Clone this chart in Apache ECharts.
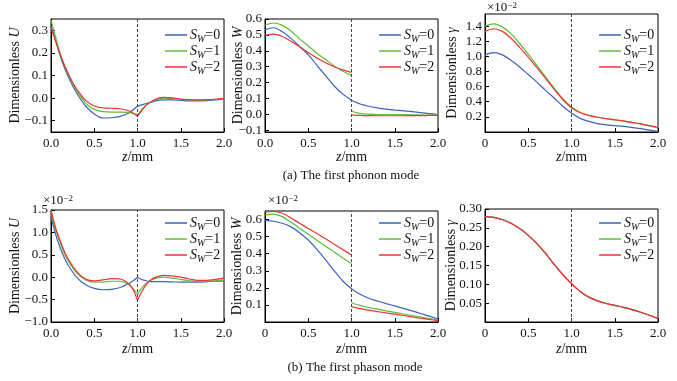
<!DOCTYPE html>
<html><head><meta charset="utf-8">
<script src="https://cdn.jsdelivr.net/npm/echarts@6/dist/echarts.min.js"></script>
<style>html,body{margin:0;padding:0;background:#fff}#c{width:677px;height:381px}</style>
</head><body><div id="c"></div>
<script>
// ---------- data ----------
const seriesNames = ['S_W=0', 'S_W=1', 'S_W=2'];
const xTicks = [0, 0.5, 1, 1.5, 2];

// (a) U, phonon
const zU1L = [0, 0.05, 0.1, 0.15, 0.2, 0.25, 0.3, 0.4, 0.5, 0.6, 0.7, 0.8, 0.9, 1.0];
const U1_S0L = [0.32, 0.26, 0.195, 0.14, 0.095, 0.055, 0.02, -0.035, -0.07, -0.088, -0.087, -0.081, -0.066, -0.035];
const U1_S1L = [0.345, 0.275, 0.205, 0.15, 0.105, 0.065, 0.032, -0.022, -0.05, -0.06, -0.062, -0.062, -0.063, -0.074];
const U1_S2L = [0.31, 0.255, 0.2, 0.15, 0.108, 0.07, 0.038, -0.01, -0.035, -0.043, -0.045, -0.047, -0.056, -0.08];
const zU1R = [1.0, 1.05, 1.1, 1.2, 1.3, 1.4, 1.5, 1.6, 1.7, 1.8, 1.9, 2.0];
const U1_S0R = [-0.035, -0.03, -0.024, -0.013, -0.008, -0.008, -0.01, -0.012, -0.012, -0.011, -0.008, -0.005];
const U1_S1R = [-0.074, -0.05, -0.03, -0.008, 0.0, -0.002, -0.005, -0.008, -0.009, -0.008, -0.006, -0.003];
const U1_S2R = [-0.08, -0.055, -0.032, -0.006, 0.003, 0.001, -0.004, -0.007, -0.008, -0.007, -0.005, -0.001];
const yTicksU1 = [-0.1, 0, 0.1, 0.2, 0.3];

// (a) W, phonon
const zW1L = [0, 0.1, 0.2, 0.3, 0.4, 0.5, 0.6, 0.7, 0.8, 0.9, 1.0];
const W1_S0L = [0.532, 0.545, 0.52, 0.478, 0.427, 0.376, 0.309, 0.244, 0.179, 0.128, 0.09];
const W1_S1L = [0.56, 0.575, 0.56, 0.525, 0.475, 0.43, 0.385, 0.345, 0.305, 0.272, 0.245];
const W1_S2L = [0.497, 0.505, 0.49, 0.46, 0.425, 0.39, 0.355, 0.325, 0.3, 0.28, 0.265];
const zW1R = [1.0, 1.05, 1.1, 1.2, 1.3, 1.4, 1.5, 1.6, 1.7, 1.8, 1.9, 2.0];
const W1_S0R = [0.09, 0.077, 0.066, 0.052, 0.042, 0.034, 0.028, 0.023, 0.018, 0.012, 0.006, 0.0];
const W1_S1R = [0.022, 0.012, 0.006, 0.002, 0.0, 0.0, 0.0, -0.001, -0.002, -0.003, -0.004, -0.004];
const W1_S2R = [-0.002, -0.005, -0.006, -0.007, -0.008, -0.008, -0.008, -0.008, -0.007, -0.007, -0.006, -0.006];
const yTicksW1 = [-0.1, 0, 0.1, 0.2, 0.3, 0.4, 0.5, 0.6];

// (a) gamma, phonon (x 10^-2)
const zG1 = [0, 0.1, 0.2, 0.3, 0.4, 0.5, 0.6, 0.7, 0.8, 0.9, 1.0, 1.1, 1.2, 1.3, 1.4, 1.5, 1.6, 1.7, 1.8, 1.9, 2.0];
const G1_S0 = [1.02, 1.05, 1.02, 0.95, 0.86, 0.76, 0.66, 0.55, 0.45, 0.34, 0.25, 0.18, 0.14, 0.11, 0.095, 0.085, 0.075, 0.06, 0.045, 0.025, 0.01];
const G1_S1 = [1.40, 1.43, 1.39, 1.30, 1.17, 1.03, 0.88, 0.73, 0.58, 0.44, 0.33, 0.26, 0.22, 0.195, 0.175, 0.16, 0.145, 0.125, 0.105, 0.08, 0.055];
const G1_S2 = [1.33, 1.365, 1.33, 1.24, 1.12, 0.99, 0.85, 0.71, 0.565, 0.43, 0.32, 0.255, 0.22, 0.195, 0.178, 0.162, 0.147, 0.128, 0.108, 0.085, 0.06];
const yTicksG1 = [0.2, 0.4, 0.6, 0.8, 1.0, 1.2, 1.4];

// (b) U, phason (x 10^-2)
const zU2L = [0, 0.05, 0.1, 0.15, 0.2, 0.3, 0.4, 0.5, 0.6, 0.7, 0.8, 0.9, 0.95, 1.0];
const U2_S0L = [1.35, 0.98, 0.69, 0.45, 0.26, -0.01, -0.17, -0.25, -0.28, -0.27, -0.23, -0.14, -0.08, 0.0];
const U2_S1L = [1.45, 1.08, 0.8, 0.55, 0.36, 0.09, -0.06, -0.11, -0.11, -0.09, -0.09, -0.17, -0.26, -0.38];
const U2_S2L = [1.5, 1.12, 0.84, 0.6, 0.4, 0.12, -0.04, -0.08, -0.06, -0.03, -0.04, -0.15, -0.28, -0.52];
const zU2R = [1.0, 1.05, 1.1, 1.15, 1.2, 1.3, 1.4, 1.5, 1.6, 1.7, 1.8, 1.9, 2.0];
const U2_S0R = [0.0, -0.05, -0.08, -0.1, -0.1, -0.1, -0.105, -0.11, -0.11, -0.11, -0.1, -0.09, -0.08];
const U2_S1R = [-0.38, -0.24, -0.14, -0.07, -0.03, 0.0, -0.02, -0.05, -0.08, -0.09, -0.09, -0.08, -0.06];
const U2_S2R = [-0.52, -0.32, -0.17, -0.07, -0.01, 0.04, 0.03, 0.0, -0.04, -0.07, -0.07, -0.05, -0.02];
const yTicksU2 = [-1.0, -0.5, 0, 0.5, 1.0, 1.5];

// (b) W, phason (x 10^-2)
const zW2L = [0, 0.1, 0.2, 0.3, 0.4, 0.5, 0.6, 0.7, 0.8, 0.9, 1.0];
const W2_S0L = [0.595, 0.59, 0.578, 0.557, 0.523, 0.48, 0.425, 0.364, 0.3, 0.24, 0.195];
const W2_S1L = [0.628, 0.632, 0.617, 0.584, 0.549, 0.514, 0.479, 0.444, 0.41, 0.375, 0.341];
const W2_S2L = [0.645, 0.647, 0.637, 0.609, 0.578, 0.548, 0.518, 0.487, 0.455, 0.424, 0.393];
const zW2R = [1.0, 1.1, 1.2, 1.3, 1.4, 1.5, 1.6, 1.7, 1.8, 1.9, 2.0];
const W2_S0R = [0.195, 0.162, 0.139, 0.123, 0.108, 0.094, 0.08, 0.065, 0.05, 0.034, 0.017];
const W2_S1R = [0.113, 0.097, 0.085, 0.075, 0.065, 0.056, 0.047, 0.038, 0.029, 0.02, 0.011];
const W2_S2R = [0.09, 0.078, 0.069, 0.061, 0.053, 0.046, 0.038, 0.03, 0.022, 0.015, 0.007];
const yTicksW2 = [0.1, 0.2, 0.3, 0.4, 0.5, 0.6];

// (b) gamma, phason
const zG2 = [0, 0.1, 0.2, 0.3, 0.4, 0.5, 0.6, 0.7, 0.8, 0.9, 1.0, 1.1, 1.2, 1.3, 1.4, 1.5, 1.6, 1.7, 1.8, 1.9, 2.0];
const G2_S0 = [0.280, 0.278, 0.272, 0.262, 0.248, 0.23, 0.208, 0.182, 0.153, 0.126, 0.102, 0.081, 0.066, 0.056, 0.049, 0.044, 0.039, 0.033, 0.026, 0.018, 0.009];
const G2_S1 = [0.280, 0.278, 0.272, 0.262, 0.248, 0.23, 0.208, 0.182, 0.153, 0.126, 0.102, 0.081, 0.066, 0.056, 0.049, 0.044, 0.039, 0.033, 0.026, 0.018, 0.009];
const G2_S2 = [0.280, 0.278, 0.272, 0.262, 0.248, 0.23, 0.208, 0.182, 0.153, 0.126, 0.102, 0.081, 0.066, 0.056, 0.049, 0.044, 0.039, 0.033, 0.026, 0.018, 0.009];
const yTicksG2 = [0.05, 0.10, 0.15, 0.20, 0.25, 0.30];

const captionA = '(a) The first phonon mode';
const captionB = '(b) The first phason mode';

// ---------- build ----------
function pairs(zs, ys) { return zs.map((z, i) => [z, ys[i]]); }
function joined(zl, yl, zr, yr) { return pairs(zl, yl).concat([[1, null]], pairs(zr, yr)); }

const FONT = 'Liberation Serif';
const TXT = '#111';
const colors = ['#3d63bd', '#5cbd38', '#ee3434'];

const panels = [
  { grid: {left: 51, top: 19, width: 173, height: 113}, ymin: -0.15, ymax: 0.35, yTicks: yTicksU1, dec: 1,
    yname: 'Dimensionless {i|U}', ygap: 29, xZero: '0.0', xgap: 18, leg: [160, 23],
    data: [joined(zU1L, U1_S0L, zU1R, U1_S0R), joined(zU1L, U1_S1L, zU1R, U1_S1R), joined(zU1L, U1_S2L, zU1R, U1_S2R)] },
  { grid: {left: 265, top: 19, width: 173, height: 113}, ymin: -0.11, ymax: 0.6, yTicks: yTicksW1, dec: 1,
    yname: 'Dimensionless {i|W}', ygap: 20, xZero: '0.0', xgap: 18, leg: [374, 23],
    data: [joined(zW1L, W1_S0L, zW1R, W1_S0R), joined(zW1L, W1_S1L, zW1R, W1_S1R), joined(zW1L, W1_S2L, zW1R, W1_S2R)] },
  { grid: {left: 485, top: 14, width: 173, height: 118}, ymin: 0, ymax: 1.56, yTicks: yTicksG1, dec: 1,
    yname: 'Dimensionless {i|γ}', ygap: 26, xZero: '0', xgap: 18, leg: [594, 23],
    data: [pairs(zG1, G1_S0), pairs(zG1, G1_S1), pairs(zG1, G1_S2)] },
  { grid: {left: 51, top: 210, width: 173, height: 112}, ymin: -1.0, ymax: 1.5, yTicks: yTicksU2, dec: 1,
    yname: 'Dimensionless {i|U}', ygap: 29, xZero: '0.0', xgap: 20, leg: [160, 211],
    data: [joined(zU2L, U2_S0L, zU2R, U2_S0R), joined(zU2L, U2_S1L, zU2R, U2_S1R), joined(zU2L, U2_S2L, zU2R, U2_S2R)] },
  { grid: {left: 265, top: 211, width: 173, height: 111}, ymin: 0, ymax: 0.65, yTicks: yTicksW2, dec: 1,
    yname: 'Dimensionless {i|W}', ygap: 21, xZero: '0', xgap: 20, leg: [374, 211],
    data: [joined(zW2L, W2_S0L, zW2R, W2_S0R), joined(zW2L, W2_S1L, zW2R, W2_S1R), joined(zW2L, W2_S2L, zW2R, W2_S2R)] },
  { grid: {left: 485, top: 209, width: 173, height: 113}, ymin: 0, ymax: 0.30, yTicks: yTicksG2, dec: 2,
    yname: 'Dimensionless {i|γ}', ygap: 27, xZero: '0', xgap: 20, leg: [594, 211],
    data: [pairs(zG2, G2_S0), pairs(zG2, G2_S1), pairs(zG2, G2_S2)] }
];

const fmt = (v, d) => v.toFixed(d).replace('-', '\u2212');

const option = {
  animation: false,
  backgroundColor: '#fff',
  grid: [], xAxis: [], yAxis: [], series: [], legend: [], graphic: []
};

panels.forEach((p, i) => {
  option.grid.push(Object.assign({show: true, borderColor: '#000', borderWidth: 1, backgroundColor: 'transparent'}, p.grid));
  option.xAxis.push({
    type: 'value', gridIndex: i, min: 0, max: 2,
    name: '{i|z}/mm', nameLocation: 'middle', nameGap: p.xgap, nameMoveOverlap: false,
    nameTextStyle: {fontFamily: FONT, fontSize: 14, color: TXT,
      rich: {i: {fontFamily: FONT, fontSize: 14, fontStyle: 'italic', color: TXT}}},
    axisLine: {show: true, onZero: false, lineStyle: {color: '#000', width: 1}},
    axisTick: {show: true, inside: true, length: 4, lineStyle: {color: '#000'}, customValues: xTicks},
    axisLabel: {show: true, customValues: xTicks, margin: 5, fontFamily: FONT, fontSize: 13, color: TXT,
      formatter: v => (v === 0 ? p.xZero : v.toFixed(1))},
    splitLine: {show: false}
  });
  option.yAxis.push({
    type: 'value', gridIndex: i, min: p.ymin, max: p.ymax,
    name: p.yname, nameLocation: 'middle', nameGap: p.ygap, nameRotate: 90, nameMoveOverlap: false,
    nameTextStyle: {fontFamily: FONT, fontSize: 14, color: TXT,
      rich: {i: {fontFamily: FONT, fontSize: 14, fontStyle: 'italic', color: TXT}}},
    axisLine: {show: true, onZero: false, lineStyle: {color: '#000', width: 1}},
    axisTick: {show: true, inside: true, length: 4, lineStyle: {color: '#000'}, customValues: p.yTicks},
    axisLabel: {show: true, customValues: p.yTicks, margin: 3, fontFamily: FONT, fontSize: 13, color: TXT,
      formatter: v => fmt(v, p.dec)},
    splitLine: {show: false}
  });
  p.data.forEach((d, k) => {
    const s = {
      name: seriesNames[k], type: 'line', xAxisIndex: i, yAxisIndex: i,
      data: d, symbol: 'none', showSymbol: false, smooth: 0.3, connectNulls: false,
      lineStyle: {color: colors[k], width: 1.2}, itemStyle: {color: colors[k]},
      clip: true, z: 2 + k
    };
    if (k === 0) {
      s.markLine = {
        silent: true, symbol: ['none', 'none'], label: {show: false},
        lineStyle: {color: '#444', width: 1, type: [3, 2]},
        data: [{xAxis: 1}], animation: false
      };
    }
    option.series.push(s);
  });
  option.legend.push({
    data: seriesNames, orient: 'vertical', left: p.leg[0], top: p.leg[1],
    icon: 'rect', itemWidth: 22, itemHeight: 1.5, itemGap: 0,
    selectedMode: false,
    formatter: name => '{s|S}{sub|W}{n|=' + name.slice(-1) + '}',
    textStyle: {
      fontFamily: FONT, fontSize: 14, color: TXT, padding: [0, 0, 0, -2],
      rich: {
        s: {fontFamily: FONT, fontSize: 14, fontStyle: 'italic', color: TXT, lineHeight: 18},
        sub: {fontFamily: FONT, fontSize: 10, fontStyle: 'italic', color: TXT, lineHeight: 10, verticalAlign: 'bottom'},
        n: {fontFamily: FONT, fontSize: 14, color: TXT, lineHeight: 18}
      }
    }
  });
});

const expLabel = (x, y) => ({
  type: 'text', x: x, y: y, silent: true,
  style: {
    text: '×10{sup|\u22122}', fill: TXT, font: '13px "Liberation Serif"',
    align: 'left', verticalAlign: 'middle',
    rich: {sup: {fontFamily: FONT, fontSize: 9, fill: TXT, color: TXT, verticalAlign: 'top', lineHeight: 9}}
  }
});
const caption = (txt, x, y) => ({
  type: 'text', x: x, y: y, silent: true,
  style: {text: txt, fill: TXT, font: '13px "Liberation Serif"', align: 'center', verticalAlign: 'middle'}
});
option.graphic = [
  expLabel(487, 8), expLabel(43, 201), expLabel(268, 201),
  caption(captionA, 351, 176), caption(captionB, 355, 368)
];

const chart = echarts.init(document.getElementById('c'), null, {renderer: 'canvas'});
chart.setOption(option);
</script></body></html>
